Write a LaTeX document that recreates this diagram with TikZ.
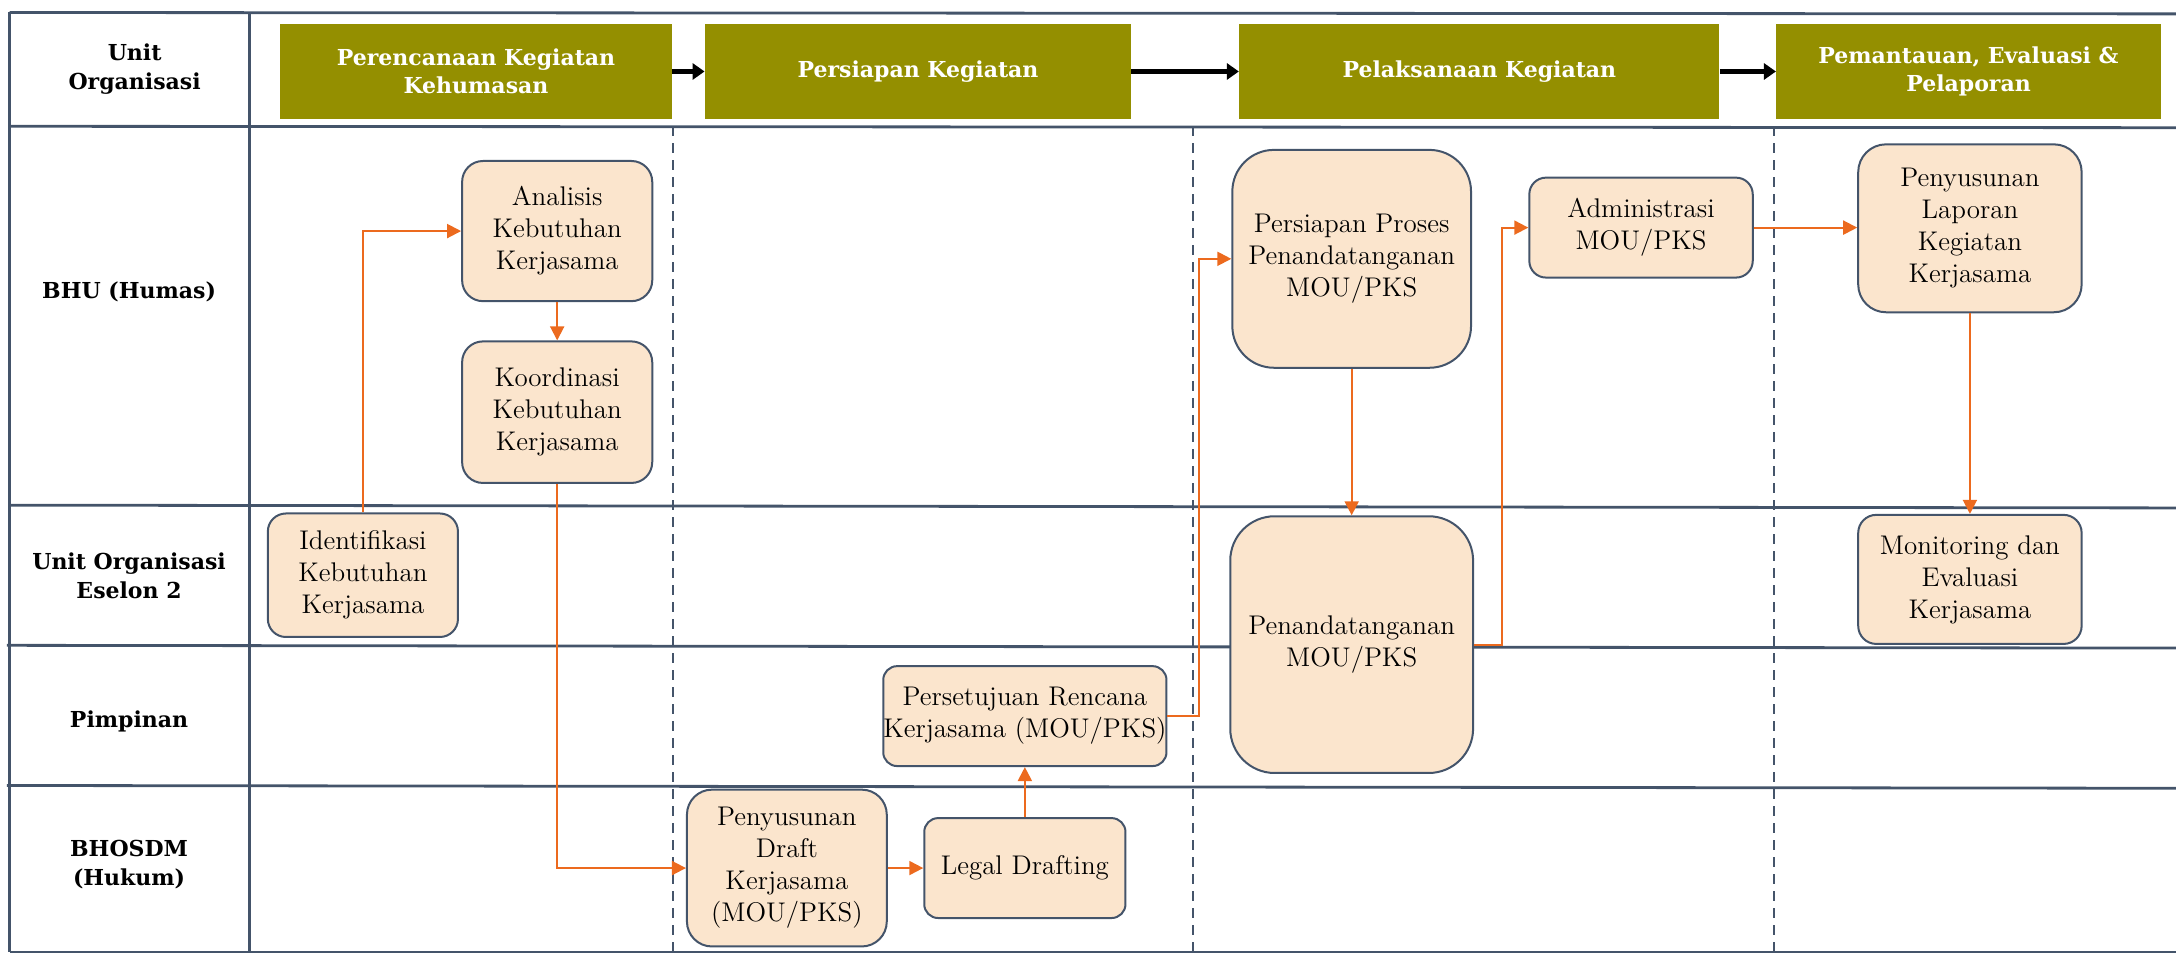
\documentclass[tikz,border=0pt]{standalone}
\usepackage{fontspec}
\usetikzlibrary{arrows.meta}
\newfontfamily\hdfont{DejaVu Serif}
\newcommand\pxu{0.6939pt}
\definecolor{olive}{RGB}{148,143,0}
\definecolor{peach}{RGB}{251,229,205}
\definecolor{slate}{RGB}{68,84,106}
\definecolor{flowor}{RGB}{236,106,30}
\tikzset{
  grid/.style={draw=slate, line width=1.4pt},
  phase/.style={draw=slate, line width=1pt, dash pattern=on 5pt off 3.5pt},
  hdbox/.style={fill=olive, draw=none, text=white, align=center, inner sep=0pt,
    font=\hdfont\bfseries\fontsize{11}{14}\selectfont},
  lanelbl/.style={align=center, inner sep=0pt, font=\hdfont\bfseries\fontsize{11}{14.5}\selectfont},
  proc/.style={draw=slate, fill=peach, line width=1pt, align=center, inner sep=0pt,
    font=\fontsize{13.5}{16}\selectfont},
  flow/.style={draw=flowor, line width=1pt, -{Triangle[length=7pt,width=7pt]}},
  hdarrow/.style={draw=black, line width=2.6pt, -{Triangle[length=6pt,width=8pt]}},
}
\begin{document}
\begin{tikzpicture}[x=\pxu, y=-\pxu]
\useasboundingbox (0,0) rectangle (1568,688);

% swimlane table
\draw[grid] (7,9) -- (1568,10);
\draw[grid] (7,91) -- (1568,92);
\draw[grid] (7,364) -- (1568,366);
\draw[grid] (5,465) -- (1568,467);
\draw[grid] (5,566) -- (1568,568);
\draw[grid] (7,686) -- (1568,686);
\draw[grid] (7,9) -- (7,686);
\draw[grid] (180,9) -- (180,686);

% phase separators
\draw[phase] (485,91) -- (485,686);
\draw[phase] (860,91) -- (860,686);
\draw[phase] (1278,91) -- (1278,686);

% lane labels
\node[lanelbl] (lbunit) at (97,50) {Unit\\Organisasi};
\node[lanelbl] (lbbhu) at (93,210) {BHU (Humas)};
\node[lanelbl] (lbeselon) at (93,415) {Unit Organisasi\\Eselon 2};
\node[lanelbl] (lbpim) at (93,520) {Pimpinan};
\node[lanelbl] (lbhukum) at (93,623) {BHOSDM\\(Hukum)};

% phase headers
\node[hdbox, minimum width=282*\pxu, minimum height=69*\pxu] (h1) at (343,51.5) {Perencanaan Kegiatan\\Kehumasan};
\node[hdbox, minimum width=307*\pxu, minimum height=69*\pxu] (h2) at (661.5,51.5) {Persiapan Kegiatan};
\node[hdbox, minimum width=346*\pxu, minimum height=69*\pxu] (h3) at (1066,51.5) {Pelaksanaan Kegiatan};
\node[hdbox, minimum width=277*\pxu, minimum height=69*\pxu] (h4) at (1418.5,51.5) {Pemantauan, Evaluasi \&\\Pelaporan};
\draw[hdarrow] (h1.east) -- (h2.west);
\draw[hdarrow] (h2.east) -- (h3.west);
\draw[hdarrow] (h3.east) -- (h4.west);

% process steps
\node[proc, minimum width=137*\pxu, minimum height=101*\pxu, rounded corners=15*\pxu] (ana) at (401.5,166.5) {Analisis\\Kebutuhan\\Kerjasama};
\node[proc, minimum width=137*\pxu, minimum height=102*\pxu, rounded corners=15*\pxu] (koo) at (401.5,297) {Koordinasi\\Kebutuhan\\Kerjasama};
\node[proc, minimum width=137*\pxu, minimum height=89*\pxu, rounded corners=13*\pxu] (ide) at (261.5,414.5) {Identifikasi\\Kebutuhan\\Kerjasama};
\node[proc, minimum width=144*\pxu, minimum height=113*\pxu, rounded corners=18*\pxu] (dra) at (567,625.5) {Penyusunan\\Draft\\Kerjasama\\(MOU/PKS)};
\node[proc, minimum width=145*\pxu, minimum height=72*\pxu, rounded corners=10*\pxu] (leg) at (738.5,625.5) {Legal Drafting};
\node[proc, minimum width=204*\pxu, minimum height=72*\pxu, rounded corners=10*\pxu] (per) at (738.5,516) {Persetujuan Rencana\\Kerjasama (MOU/PKS)};
\node[proc, minimum width=172*\pxu, minimum height=157*\pxu, rounded corners=30*\pxu] (pp) at (974,186.5) {Persiapan Proses\\Penandatanganan\\MOU/PKS};
\node[proc, minimum width=175*\pxu, minimum height=185*\pxu, rounded corners=32*\pxu] (pen) at (974,464.5) {Penandatanganan\\MOU/PKS};
\node[proc, minimum width=161*\pxu, minimum height=72*\pxu, rounded corners=12*\pxu] (adm) at (1182.5,164) {Administrasi\\MOU/PKS};
\node[proc, minimum width=161*\pxu, minimum height=121*\pxu, rounded corners=20*\pxu] (lap) at (1419.5,164.5) {Penyusunan\\Laporan\\Kegiatan\\Kerjasama};
\node[proc, minimum width=161*\pxu, minimum height=93*\pxu, rounded corners=13*\pxu] (mon) at (1419.5,417.5) {Monitoring dan\\Evaluasi\\Kerjasama};

% flow
\draw[flow] (ide.north) |- (ana.west);
\draw[flow] (ana) -- (koo);
\draw[flow] (koo.south) |- (dra.west);
\draw[flow] (dra) -- (leg);
\draw[flow] (leg) -- (per);
\draw[flow] (per.east) -- ++(23,0) |- (pp.west);
\draw[flow] (pp) -- (pen);
\draw[flow] (pen.east) -- ++(20,0) |- (adm.west);
\draw[flow] (adm.east) -- (adm.east -| lap.west);
\draw[flow] (lap) -- (mon);
\end{tikzpicture}
\end{document}
